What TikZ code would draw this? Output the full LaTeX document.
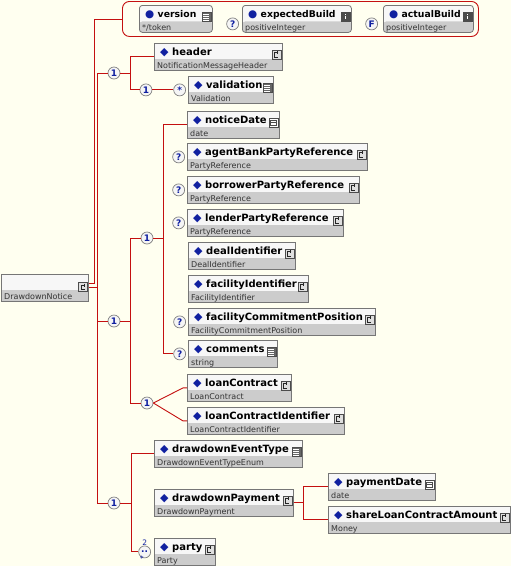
\documentclass[tikz,border=0pt]{standalone}
\usepackage{fontspec}
\setmainfont{DejaVu Sans}
\usepackage{xcolor}
\usepackage{tikz}
\usetikzlibrary{positioning}
\definecolor{paper}{RGB}{255,255,240}
\definecolor{wirered}{RGB}{196,16,16}
\definecolor{markblue}{RGB}{16,32,160}
\definecolor{boxedge}{RGB}{118,118,118}
\definecolor{boxtop}{RGB}{247,247,247}
\definecolor{boxband}{RGB}{204,204,204}

\newcommand{\elmark}{\makebox[12pt][l]{\textcolor{markblue}{\fontsize{11}{8}\selectfont ◆}}}
\newcommand{\attmark}{\makebox[12.5pt][l]{\textcolor{markblue}{\fontsize{10.5}{8}\selectfont ●}}}

\tikzset{
  wire/.style={wirered, line width=0.9pt},
  ebox/.style={anchor=north west, draw=boxedge, line width=0.8pt, fill=boxtop,
    inner sep=0pt, minimum height=27pt,
    path picture={\fill[boxband] ([yshift=11pt]path picture bounding box.south west)
      rectangle (path picture bounding box.south east);}},
  abox/.style={ebox, rounded corners=3pt},
  attrframe/.style={anchor=north west, draw=wirered, line width=0.9pt, rounded corners=7pt,
    inner sep=0pt, minimum width=356pt, minimum height=35pt},
  ename/.style={anchor=west, inner sep=0pt, text height=7.5pt, text depth=2pt,
    font=\bfseries\fontsize{10}{12}\selectfont},
  aname/.style={ename, font=\bfseries\fontsize{9.3}{12}\selectfont},
  etype/.style={anchor=west, inner sep=0pt, text height=6pt, text depth=1.5pt,
    text=black!80, font=\fontsize{8}{10}\selectfont},
  occ/.style={circle, draw=gray, fill=gray!8, line width=0.7pt, inner sep=0pt,
    minimum size=12pt, text=markblue, font=\bfseries\fontsize{9}{9}\selectfont},
  occnum/.style={inner sep=0pt, text=markblue, font=\fontsize{7.5}{8}\selectfont},
  ico/.style={draw=black!70, line width=0.5pt, fill=gray!25, inner sep=0pt, minimum size=9pt},
  iconc/.style={ico, path picture={
      \draw[black!85, line width=0.7pt]
        ([shift={(6.5pt,-2.5pt)}]path picture bounding box.north west) -- ++(-3.5pt,0pt)
        -- ++(0pt,-4.5pt) -- ++(3.5pt,0pt);
      \draw[black!85, line width=0.6pt]
        ([shift={(5.5pt,-1pt)}]path picture bounding box.north west) -- ++(0pt,-3pt);}},
  iconl/.style={ico, fill=black!60, path picture={
      \foreach \k in {2.2pt,4.2pt,6.2pt,8pt}
        \draw[white, line width=0.6pt]
          ([shift={(1.5pt,-\k)}]path picture bounding box.north west) -- ++(6pt,0pt);}},
  icond/.style={ico, fill=white, path picture={
      \draw[black!70, line width=0.5pt]
        ([shift={(1.5pt,-2.5pt)}]path picture bounding box.north west) rectangle ++(6pt,-5pt);
      \draw[black!70, line width=0.4pt]
        ([shift={(1.5pt,-4.5pt)}]path picture bounding box.north west) -- ++(6pt,0pt);}},
  iconi/.style={ico, fill=black!70, path picture={
      \fill[white] ([shift={(3.8pt,-1.8pt)}]path picture bounding box.north west)
        rectangle ++(1.5pt,-1.3pt);
      \fill[white] ([shift={(3.8pt,-3.8pt)}]path picture bounding box.north west)
        rectangle ++(1.5pt,-3.6pt);}}
}

\begin{document}
\begin{tikzpicture}[x=1pt, y=-1pt]
\useasboundingbox (0,0) rectangle (511,566);
\fill[paper] (0,0) rectangle (511,566);

% Root
\node[ebox, minimum width=87] (root) at (1,274) {};
\node[etype] (root-t) at ([xshift=3pt, yshift=5pt]root.south west) {DrawdownNotice};
\node[iconc] (root-i) at ([xshift=-6pt, yshift=-13pt]root.north east) {};

% Attributes
\node[attrframe] (attrs) at (122,1) {};
\foreach \nm/\typ/\x/\w/\ic in {version/{*/token}/139/73/l,
    expectedBuild/positiveInteger/242/109/i, actualBuild/positiveInteger/383/90/i} {
  \node[abox, minimum width=\w] (\nm) at (\x,5) {};
  \node[aname] (\nm-n) at ([xshift=6pt, yshift=-9.5pt]\nm.north west) {\attmark\nm};
  \node[etype] (\nm-t) at ([xshift=3pt, yshift=5pt]\nm.south west) {\typ};
  \node[icon\ic] (\nm-i) at ([xshift=-6.5pt, yshift=-11.5pt]\nm.north east) {};
}
\node[occ, left=3pt of expectedBuild, yshift=-5pt] (optExpected) {?};
\node[occ, left=5pt of actualBuild, yshift=-5pt] (fixActual) {F};

% Elements
\foreach \nm/\typ/\x/\y/\w/\ic in {
    header/NotificationMessageHeader/154/43/128/c,
    validation/Validation/188/76/85/l,
    noticeDate/date/187/111/92/d,
    agentBankPartyReference/PartyReference/187/143/180/c,
    borrowerPartyReference/PartyReference/187/176/172/c,
    lenderPartyReference/PartyReference/187/209/156/c,
    dealIdentifier/DealIdentifier/188/242/107/c,
    facilityIdentifier/FacilityIdentifier/188/275/120/c,
    facilityCommitmentPosition/FacilityCommitmentPosition/188/308/187/c,
    comments/string/188/340/89/l,
    loanContract/LoanContract/187/374/104/c,
    loanContractIdentifier/LoanContractIdentifier/187/407/157/c,
    drawdownEventType/DrawdownEventTypeEnum/154/440/148/l,
    drawdownPayment/DrawdownPayment/154/489/139/c,
    paymentDate/date/328/473/107/d,
    shareLoanContractAmount/Money/328/506/182/c,
    party/Party/154/538/61/c} {
  \node[ebox, minimum width=\w] (\nm) at (\x,\y) {};
  \node[ename] (\nm-n) at ([xshift=6pt, yshift=-9.5pt]\nm.north west) {\elmark\nm};
  \node[etype] (\nm-t) at ([xshift=3pt, yshift=5pt]\nm.south west) {\typ};
  \node[icon\ic] (\nm-i) at ([xshift=-6.5pt, yshift=-11.5pt]\nm.north east) {};
}

% Occurrence marks
\node[occ, left=2pt of validation] (valMany) {*};
\node[occ, left=21pt of valMany] (seqHdr) {1};
\node[occ, left=2pt of agentBankPartyReference] (optAgent) {?};
\node[occ, left=2pt of borrowerPartyReference] (optBorrower) {?};
\node[occ, left=2pt of lenderPartyReference] (optLender) {?};
\node[occ, left=2pt of facilityCommitmentPosition] (optFacPos) {?};
\node[occ, left=2pt of comments] (optComments) {?};
\node[occ, left=3pt of party] (partyMany) {..};
\node[occnum, above=0pt of partyMany] (partyMin) {2};
\node[occnum, below=-2.5pt of partyMany, xshift=-3pt] (partyMax) {*};

% Compositors
\node[occ] (seqTop) at (114,73) {1};
\node[occ] (seqBody) at (114,321) {1};
\node[occ] (seqDates) at (147,238) {1};
\node[occ] (choiceLoan) at (147,403) {1};
\node[occ] (seqPay) at (114,503) {1};

% Root connectors
\draw[wire] ([yshift=4pt]root.east) -| ([xshift=-28pt]attrs.west) -- (attrs.west);
\coordinate (bodyBar) at ([xshift=9pt]root.east);
\draw[wire] (root.east) -- (bodyBar);
\draw[wire] (seqTop.west) -| (bodyBar) |- (seqPay.west);
\draw[wire] (bodyBar) |- (seqBody.west);

% Header sequence
\draw[wire] (seqTop.east) -- ++(10pt,0pt);
\draw[wire] (header.west) -| ([xshift=10pt]seqTop.east) |- (seqHdr.west);
\draw[wire] (seqHdr) -- (valMany);

% Body sequence
\draw[wire] (seqBody.east) -- ++(10pt,0pt);
\draw[wire] (seqDates.west) -| ([xshift=10pt]seqBody.east) |- (choiceLoan.west);
\draw[wire] (seqDates.east) -- ++(10pt,0pt);
\draw[wire] (noticeDate.west) -| ([xshift=10pt]seqDates.east) |- (optComments.west);
\draw[wire] (choiceLoan.east) -- ([xshift=-4pt]loanContract.west) -- (loanContract.west);
\draw[wire] (choiceLoan.east) -- ([xshift=-4pt]loanContractIdentifier.west)
  -- (loanContractIdentifier.west);

% Payment sequence
\draw[wire] (seqPay.east) -- ++(11pt,0pt);
\draw[wire] (drawdownEventType.west) -| ([xshift=11pt]seqPay.east) |- (partyMany.west);
\draw[wire] (drawdownPayment.east) -- ++(10pt,0pt);
\draw[wire] (paymentDate.west) -| ([xshift=10pt]drawdownPayment.east)
  |- (shareLoanContractAmount.west);
\end{tikzpicture}
\end{document}
